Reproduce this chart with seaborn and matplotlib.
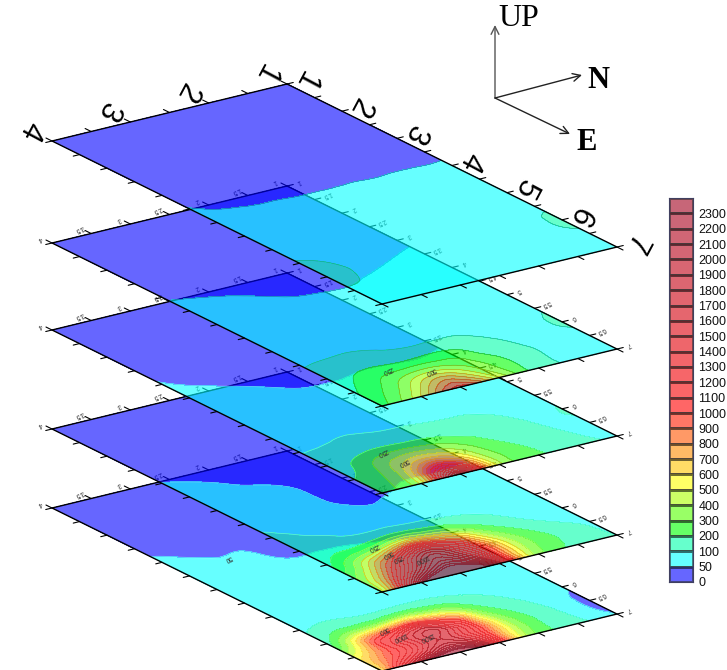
import numpy as np
import matplotlib
matplotlib.use("Agg")
import matplotlib.pyplot as plt
import matplotlib.tri as mtri
from matplotlib.colors import ListedColormap
import seaborn as sns

# grid of each slice, one row per B value, one column per A value
a_values = np.arange(1, 7.5, 0.5)
b_values = np.arange(1, 4.5, 0.5)

slice_1 = [
    [5, 8, 12, 18, 25, 37, 58, 68, 75, 82, 130, 80, 60],
    [5, 8, 12, 18, 25, 37, 57, 64, 68, 72, 74, 68, 60],
    [5, 8, 12, 18, 25, 37, 56, 62, 65, 68, 68, 64, 58],
    [5, 8, 12, 18, 26, 37, 56, 61, 64, 66, 66, 62, 58],
    [5, 8, 12, 18, 26, 38, 56, 62, 65, 68, 70, 66, 60],
    [5, 8, 13, 20, 28, 40, 58, 64, 70, 82, 88, 78, 62],
    [6, 10, 15, 22, 30, 52, 60, 68, 78, 108, 150, 85, 65],
]
slice_2 = [
    [5, 12, 20, 30, 44, 54, 55, 60, 65, 90, 115, 72, 75],
    [5, 12, 20, 28, 38, 50, 55, 60, 65, 75, 88, 82, 85],
    [5, 12, 18, 24, 32, 44, 54, 60, 68, 85, 112, 160, 150],
    [5, 12, 18, 22, 30, 40, 54, 60, 68, 72, 198, 350, 520],
    [5, 12, 18, 24, 36, 46, 56, 62, 70, 88, 190, 560, 1050],
    [5, 12, 20, 28, 42, 53, 58, 65, 78, 102, 205, 370, 600],
    [6, 14, 22, 32, 47, 56, 58, 66, 75, 92, 140, 190, 260],
]
slice_3 = [
    [5, 10, 18, 25, 35, 44, 55, 62, 68, 75, 105, 88, 92],
    [5, 10, 18, 25, 33, 42, 52, 60, 66, 82, 98, 108, 130],
    [5, 10, 18, 25, 34, 43, 53, 60, 70, 96, 140, 190, 215],
    [5, 10, 18, 25, 33, 40, 51, 60, 72, 100, 210, 380, 450],
    [5, 10, 18, 26, 36, 43, 53, 62, 80, 106, 270, 750, 1900],
    [5, 10, 20, 30, 40, 52, 60, 68, 85, 108, 240, 400, 520],
    [6, 12, 25, 40, 52, 58, 65, 75, 82, 97, 130, 200, 280],
]
slice_4 = [
    [5, 10, 18, 26, 35, 42, 45, 54, 58, 60, 70, 85, 100],
    [5, 10, 18, 25, 33, 40, 42, 53, 60, 75, 92, 170, 160],
    [5, 10, 18, 25, 32, 38, 40, 52, 62, 90, 230, 420, 350],
    [5, 10, 18, 24, 30, 36, 38, 42, 57, 110, 650, 1300, 1800],
    [5, 10, 18, 25, 34, 42, 53, 55, 62, 125, 900, 1900, 3000],
    [5, 10, 20, 30, 42, 53, 58, 62, 88, 120, 450, 1050, 2100],
    [6, 12, 25, 38, 51, 62, 72, 85, 108, 125, 170, 380, 450],
]
slice_5 = [
    [5, 10, 18, 26, 38, 44, 49, 56, 60, 62, 55, 38, 52],
    [5, 10, 18, 26, 37, 45, 51, 58, 64, 68, 85, 110, 130],
    [5, 10, 18, 26, 36, 46, 54, 62, 70, 88, 190, 330, 280],
    [5, 10, 18, 26, 38, 47, 56, 64, 76, 108, 680, 1200, 1300],
    [5, 10, 18, 26, 43, 51, 60, 66, 78, 100, 1000, 1700, 2700],
    [5, 10, 20, 32, 46, 55, 62, 68, 80, 110, 650, 1100, 1900],
    [6, 12, 28, 42, 55, 60, 65, 70, 78, 85, 160, 520, 620],
]
slices = [slice_1, slice_2, slice_3, slice_4, slice_5]

level_labels = [0, 50] + list(range(100, 2400, 100))
low_colors = ["#0000ff", "#00ffff", "#00ffaa", "#00ff00", "#55ff00", "#aaff00",
              "#ffff00", "#ffc600", "#ff8e00", "#ff5500", "#ff1c00"]

a_tick_text = ["1", "1.5", "2", "2.5", "3", "3.5", "4", "4.5", "5", "5.5", "6", "6.5", "7"]
b_tick_text = ["1", "1.5", "2", "2.5", "3", "3.5", "4"]

# small labels written on the contours: slice, x, y, text
contour_notes = [
    (1, 387, 370, "250"), (1, 430, 371, "500"),
    (2, 382, 452, "250"), (2, 403, 462, "500"),
    (3, 373, 547, "250"), (3, 387, 554, "500"), (3, 397, 558, "750"), (3, 422, 558, "1000"),
    (4, 228, 558, "50"), (4, 383, 630, "500"), (4, 400, 636, "1000"), (4, 427, 636, "1500"),
]

sns.set_theme(style="white")
plt.rcParams["font.family"] = ["Liberation Sans", "DejaVu Sans"]

W, H = 727, 670
fig = plt.figure(figsize=(W / 100, H / 100), dpi=100, facecolor="white")
ax = fig.add_axes([0, 0, 1, 1])
ax.set_xlim(0, W)
ax.set_ylim(H, 0)
ax.axis("off")

top_x = 287
top_ys = [84, 186, 273, 372, 451]
step_a = np.array([55.0, 27.17])
step_b = np.array([-78.33, 19.0])

palette = low_colors + [matplotlib.colors.to_hex(c) for c in sns.blend_palette(["#ff0000", "#a3001e"], 14)]
fill_levels = [-5000] + level_labels[1:] + [100000]
line_levels = level_labels[1:]
# per slice: where the white lines stop, colour of the lines above that
dark_from = [0, 0, 300, 500, 1000]
mid_color = ["#303030", "#404040", "#907070", "#a07070", "#c08080"]
top_color = ["#303030", "#404040", "#604848", "#503838", "#604848"]


def to_screen(a, b, top_y):
    a = np.asarray(a, dtype=float)
    b = np.asarray(b, dtype=float)
    x = top_x + (a - 1) * step_a[0] + (b - 1) * step_b[0]
    y = top_y + (a - 1) * step_a[1] + (b - 1) * step_b[1]
    return x, y


aa, bb = np.meshgrid(a_values, b_values)
grid_tri = mtri.Triangulation(aa.ravel(), bb.ravel())
refiner = mtri.UniformTriRefiner(grid_tri)

# bottom slice first, the upper ones are see-through and lie on top
for i in reversed(range(5)):
    top_y = top_ys[i]
    z0 = 10 * (5 - i)
    # smooth the contours in log space, the peaks are too steep otherwise
    fine_tri, fine_log = refiner.refine_field(np.log(np.array(slices[i], dtype=float)).ravel(), subdiv=3)
    fine_z = np.exp(fine_log)
    sx, sy = to_screen(fine_tri.x, fine_tri.y, top_y)
    screen_tri = mtri.Triangulation(sx, sy, fine_tri.triangles)
    ax.tricontourf(screen_tri, fine_z, levels=fill_levels, colors=palette, alpha=0.6, zorder=z0)

    light = [v for v in line_levels if v < dark_from[i]]
    mid = [v for v in line_levels if dark_from[i] <= v < 1600]
    top = [v for v in line_levels if v >= 1600]
    if light:
        ax.tricontour(screen_tri, fine_z, levels=light, colors="#f4f4f4", linewidths=0.6,
                      alpha=0.35, zorder=z0 + 1)
    ax.tricontour(screen_tri, fine_z, levels=mid, colors=mid_color[i], linewidths=0.4,
                  alpha=0.5, zorder=z0 + 1)
    if fine_z.max() > 1600:
        ax.tricontour(screen_tri, fine_z, levels=top, colors=top_color[i], linewidths=0.4,
                      alpha=0.5, zorder=z0 + 1)

    # frame of the slice
    cx, cy = to_screen([1, 7, 7, 1, 1], [1, 1, 4, 4, 1], top_y)
    ax.plot(cx, cy, color="black", lw=1.0, zorder=z0 + 2)

    # ticks on all four edges
    for a in a_values:
        x0, y0 = to_screen(a, 1, top_y)
        x1, y1 = to_screen(a, 0.92, top_y)
        ax.plot([x0, x1], [y0, y1], color="black", lw=0.8, zorder=z0 + 2)
        x0, y0 = to_screen(a, 4, top_y)
        x1, y1 = to_screen(a, 4.08, top_y)
        ax.plot([x0, x1], [y0, y1], color="black", lw=0.8, zorder=z0 + 2)
    for b in b_values:
        x0, y0 = to_screen(1, b, top_y)
        x1, y1 = to_screen(0.89, b, top_y)
        ax.plot([x0, x1], [y0, y1], color="black", lw=0.8, zorder=z0 + 2)
        x0, y0 = to_screen(7, b, top_y)
        x1, y1 = to_screen(7.11, b, top_y)
        ax.plot([x0, x1], [y0, y1], color="black", lw=0.8, zorder=z0 + 2)

    if i == 0:
        # big labels on the top slice only
        for a in range(1, 8):
            x0, y0 = to_screen(a, 1, top_y)
            ax.text(x0 + 18, y0 - 4, str(a), fontsize=22, rotation=242, ha="center", va="center",
                    rotation_mode="anchor", color="black", zorder=z0 + 3)
        for b in range(1, 5):
            x0, y0 = to_screen(1, b, top_y)
            ax.text(x0 - 22, y0 - 11, str(b), fontsize=22, rotation=242, ha="center", va="center",
                    rotation_mode="anchor", color="black", zorder=z0 + 3)
    else:
        for a, label in zip(a_values, a_tick_text):
            x0, y0 = to_screen(a, 1, top_y)
            ax.text(x0 + 12, y0 - 5, label, fontsize=4.8, rotation=205, ha="center", va="center",
                    rotation_mode="anchor", color="#303030", zorder=z0 + 3)
        for b, label in zip(b_values, b_tick_text):
            x0, y0 = to_screen(1, b, top_y)
            ax.text(x0 - 12, y0 - 5, label, fontsize=4.8, rotation=205, ha="center", va="center",
                    rotation_mode="anchor", color="#303030", zorder=z0 + 3)

for idx, x, y, label in contour_notes:
    ax.text(x, y, label, fontsize=4.8, rotation=205, ha="center", va="center", rotation_mode="anchor",
            color="#303030", zorder=10 * (5 - idx) + 3)

# direction arrows
origin = (495, 98)
for end, col in [((495, 25), "#555555"), ((582, 75), "#222222"), ((570, 134), "#222222")]:
    ax.annotate("", xy=end, xytext=origin, zorder=90,
                arrowprops=dict(arrowstyle="->", color=col, lw=1.0, shrinkA=0, shrinkB=0, mutation_scale=14))
ax.text(498, 18, "UP", family="Liberation Serif", fontsize=23, ha="left", va="center", color="black", zorder=90)
ax.text(587, 80, "N", family="Liberation Serif", fontweight="bold", fontsize=22, ha="left", va="center", color="black", zorder=90)
ax.text(576, 142, "E", family="Liberation Serif", fontweight="bold", fontsize=22, ha="left", va="center", color="black", zorder=90)

# colour scale as a one column heatmap
bar_top, bar_bottom = 198, 582
bar_ax = fig.add_axes([669 / W, 1 - bar_bottom / H, 24 / W, (bar_bottom - bar_top) / H])
bar_cells = np.arange(len(palette))[::-1].reshape(-1, 1)
sns.heatmap(bar_cells, ax=bar_ax, cmap=ListedColormap(palette), alpha=0.6, cbar=False,
            linewidths=0.8, linecolor="#303030", xticklabels=False)
bar_ax.yaxis.tick_right()
bar_ax.set_yticks(np.arange(1, len(palette) + 1))
bar_ax.set_yticklabels([str(v) for v in level_labels[::-1]], rotation=0, fontsize=9, color="#111111")
bar_ax.tick_params(axis="y", length=0, pad=4)
for side in bar_ax.spines.values():
    side.set_visible(True)
    side.set_color("#404060")
    side.set_linewidth(0.8)

fig.savefig("out.png", dpi=100, facecolor="white")
